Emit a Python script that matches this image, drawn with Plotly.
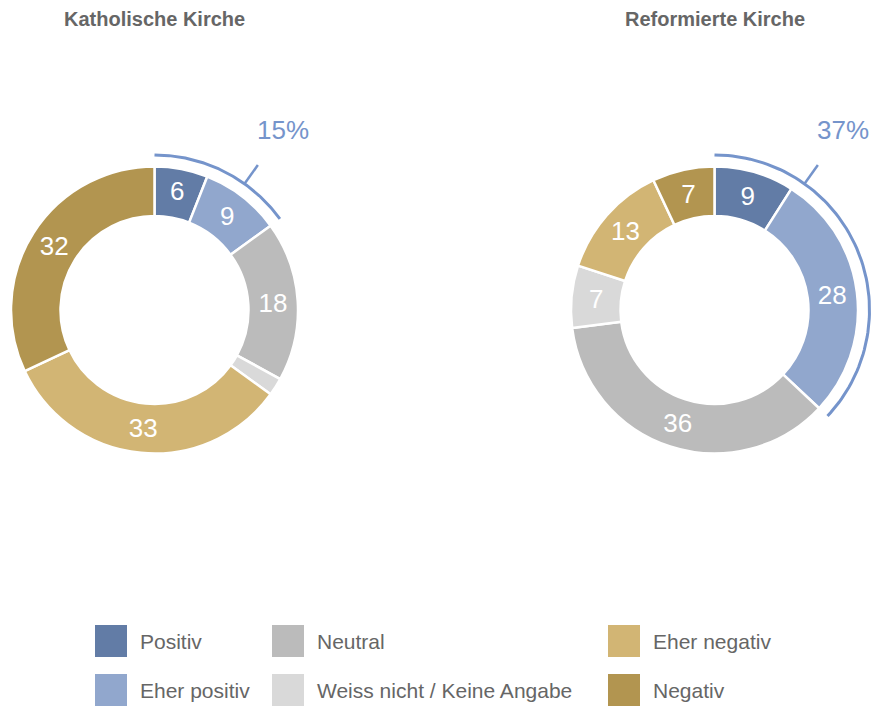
import math
import plotly.graph_objects as go

categories = ["Positiv", "Eher positiv", "Neutral", "Weiss nicht / Keine Angabe", "Eher negativ", "Negativ"]
colors = ["#627ca6", "#91a7cd", "#bbbbbb", "#d9d9d9", "#d2b574", "#b29550"]
titles = ["Katholische Kirche", "Reformierte Kirche"]
katholisch = [6, 9, 18, 2, 33, 32]
reformiert = [9, 28, 36, 7, 13, 7]
series = [katholisch, reformiert]
positive_keys = ["Positiv", "Eher positiv"]

W, H = 873, 707
centers = [(154.5, 310.0), (714.5, 310.0)]
R = 143.5
HOLE = 94 / 143.5
ARC_R = 155
TICK_ANGLE = 35.5
ACCENT = "#7594cb"
TEXT_GREY = "#666666"

fig = go.Figure()

for (cx, cy), vals, title in zip(centers, series, titles):
    dom_x = [(cx - R) / W, (cx + R) / W]
    dom_y = [1 - (cy + R) / H, 1 - (cy - R) / H]
    texts = [str(v) if v >= 5 else "" for v in vals]
    fig.add_trace(go.Pie(
        labels=categories, values=vals, text=texts, textinfo="text",
        sort=False, direction="clockwise", rotation=0, hole=HOLE,
        domain=dict(x=dom_x, y=dom_y),
        marker=dict(colors=colors, line=dict(color="white", width=2.5)),
        textposition="inside", insidetextorientation="horizontal",
        insidetextfont=dict(color="white", size=26, family="Liberation Sans"),
        hoverinfo="label+value", showlegend=False,
    ))
    # positive share arc
    share = sum(v for c, v in zip(categories, vals) if c in positive_keys)
    end = share * 3.6
    n = 80
    ax = [cx + ARC_R * math.sin(math.radians(end * i / n)) for i in range(n + 1)]
    ay = [cy - ARC_R * math.cos(math.radians(end * i / n)) for i in range(n + 1)]
    fig.add_trace(go.Scatter(x=ax, y=ay, mode="lines", line=dict(color=ACCENT, width=3),
                             showlegend=False, hoverinfo="skip"))
    t = math.radians(TICK_ANGLE)
    fig.add_trace(go.Scatter(
        x=[cx + ARC_R * math.sin(t), cx + 178 * math.sin(t)],
        y=[cy - ARC_R * math.cos(t), cy - 178 * math.cos(t)],
        mode="lines", line=dict(color=ACCENT, width=2.5), showlegend=False, hoverinfo="skip"))
    fig.add_annotation(x=cx + 221 * math.sin(t), y=cy - 221 * math.cos(t), text=f"{share}%",
                       showarrow=False, font=dict(size=26, color=ACCENT, family="Liberation Sans"),
                       xanchor="center", yanchor="middle")
    fig.add_annotation(x=cx, y=19, text=f"<b>{title}</b>", showarrow=False,
                       font=dict(size=20, color=TEXT_GREY, family="Liberation Sans"),
                       xanchor="center", yanchor="middle")

# legend (manual, 3 columns x 2 rows)
col_x = [95, 272, 608]
row_y = [625, 674]
SQ = 32
for i, (cat, col) in enumerate(zip(categories, colors)):
    x0 = col_x[i // 2]
    y0 = row_y[i % 2]
    fig.add_shape(type="rect", x0=x0, x1=x0 + SQ, y0=y0, y1=y0 + SQ,
                  xref="x", yref="y", fillcolor=col, line=dict(width=0))
    fig.add_annotation(x=x0 + SQ + 11, y=y0 + SQ / 2, text=cat, showarrow=False,
                       xanchor="left", yanchor="middle",
                       font=dict(size=21, color=TEXT_GREY, family="Liberation Sans"))

fig.update_layout(
    width=W, height=H, margin=dict(l=0, r=0, t=0, b=0),
    paper_bgcolor="white", plot_bgcolor="white",
    xaxis=dict(range=[0, W], visible=False, fixedrange=True),
    yaxis=dict(range=[H, 0], visible=False, fixedrange=True),
    uniformtext=dict(minsize=26, mode="show"),
    showlegend=False,
)

fig.write_html(
    "out.html",
    config={"displayModeBar": False},
    post_script="document.body.style.margin='0';document.body.style.overflow='hidden';",
)
